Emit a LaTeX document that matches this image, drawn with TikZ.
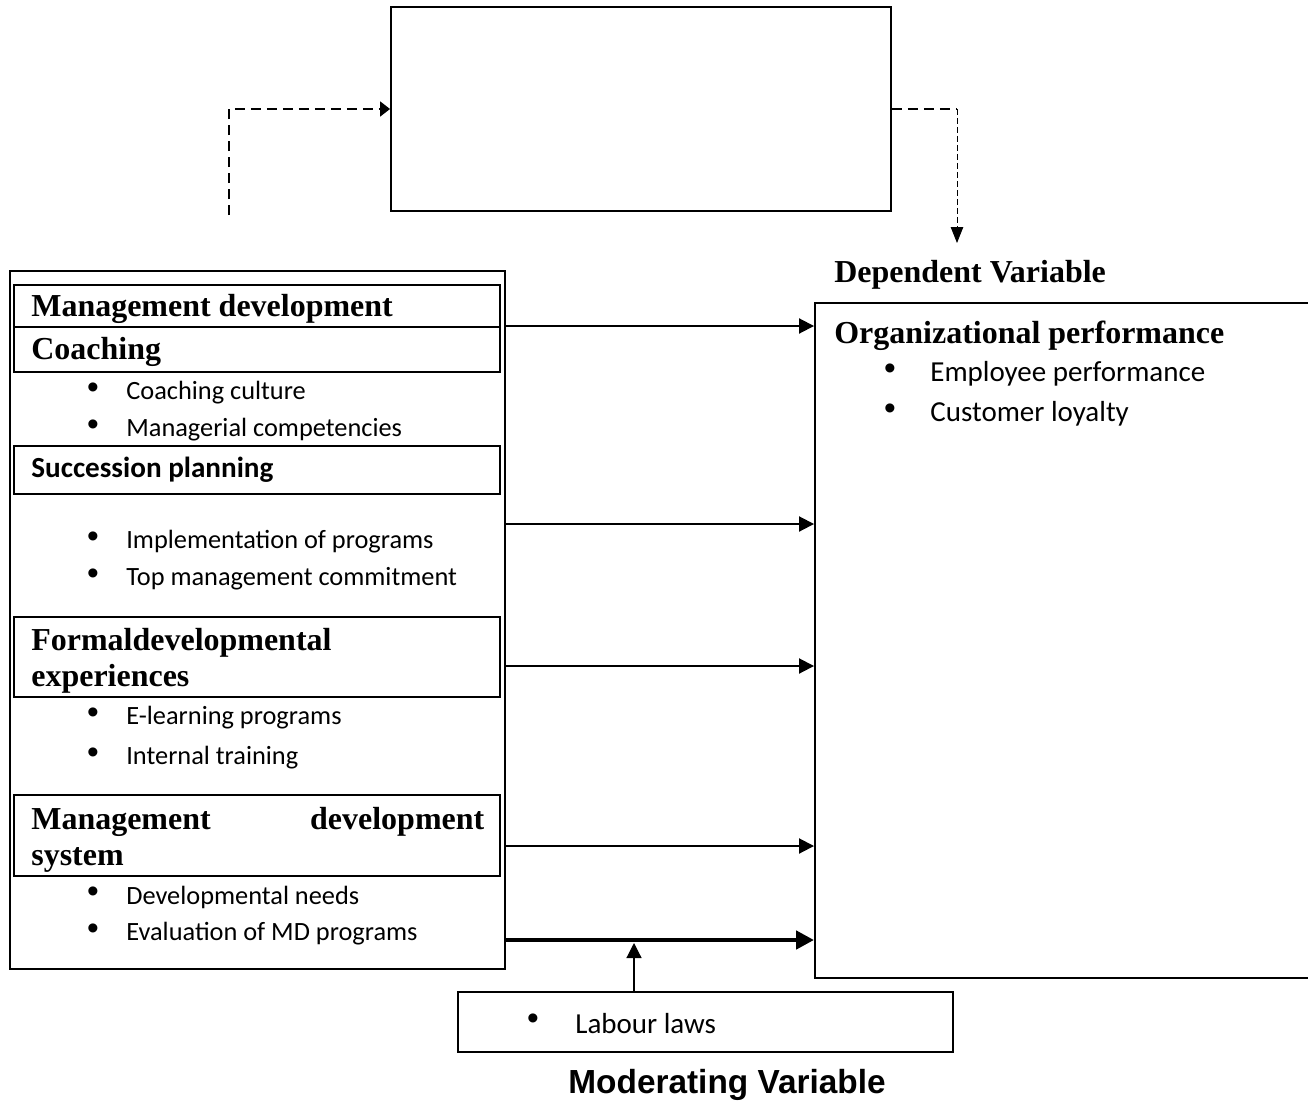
\documentclass[tikz,border=0pt]{standalone}
\usepackage{fontspec}
\setmainfont{Liberation Serif}
\newfontfamily\bodyfont{Carlito}
\newfontfamily\labelfont{Liberation Sans}
\usetikzlibrary{arrows.meta, positioning, fit}

\tikzset{
  box/.style={draw, line width=1.1pt, inner sep=0pt},
  heading/.style={anchor=west, inner sep=0pt, font=\fontsize{18.2}{20.4}\selectfont\bfseries},
  item/.style={anchor=west, inner sep=0pt, font=\bodyfont\fontsize{15}{18}\selectfont},
  bigitem/.style={item, font=\bodyfont\fontsize{16.5}{19}\selectfont},
  dot/.style={inner sep=0pt, font=\labelfont\fontsize{19}{19}\selectfont},
  link/.style={line width=1.1pt, -{Triangle[length=0.3cm, width=0.3cm]}},
}

\begin{document}
\begin{tikzpicture}[x=0.02cm, y=-0.02cm]
\useasboundingbox (0,0) rectangle (1308,1105);

% mediating box (empty)
\node[box, fit={(391,7) (891,211)}] (mediator) {};
\coordinate (dstart) at (229,215);
\coordinate (dend) at (957,243);
\coordinate (dcorner) at (dend |- mediator.east);
\draw[line width=1.1pt, dash pattern=on 0.2cm off 0.12cm,
  -{Triangle[length=0.2cm, width=0.3cm]}] (dstart) |- (mediator.west);
\draw[line width=1.1pt, dash pattern=on 0.2cm off 0.12cm] (mediator.east) -- (dcorner);
\draw[line width=0.5pt, dash pattern=on 0.12cm off 0.06cm,
  -{Triangle[length=0.32cm, width=0.25cm]}] (dcorner) -- (dend);

% independent variables
\node[box, fit={(10,271) (505,969)}] (indep) {};
\node[box, fit={(14,285) (500,327)}] (mdbox) {};
\node[box, fit={(14,327) (500,372)}] (coachbox) {};
\node[box, fit={(14,446) (500,494)}] (succbox) {};
\node[box, fit={(14,617) (500,697)}] (formalbox) {};
\node[box, fit={(14,795) (500,876)}] (mdsbox) {};

\node[heading] (mdtext) at (31,309) {Management development};
\node[heading] (coachtext) at (31,352) {Coaching};
\node[anchor=west, inner sep=0pt, font=\bodyfont\bfseries\fontsize{16.6}{19}\selectfont]
  (succtext) at (31,470) {Succession planning};
\node[heading, align=left] (formaltext) at (31,661) {Formaldevelopmental\\experiences};
\node[heading, align=left, text width=9.06cm] (mdstext) at (31,840)
  {Management\hfill development\\system};

\foreach \y/\txt [count=\i] in {391/Coaching culture, 428/Managerial competencies,
    540/Implementation of programs, 577/Top management commitment,
    716/E-learning programs, 756/Internal training,
    895/Developmental needs, 932/Evaluation of MD programs}{
  \node[dot] (dot\i) at (93,\y) {\textbullet};
  \node[item] (item\i) at (126,\y+2) {\txt};
}

% dependent variable
\node[heading] (deptitle) at (834,275) {Dependent Variable};
\begin{scope}
  \clip (0,0) rectangle (1308,1105);
  \node[box, fit={(815,303) (1330,978)}] (perf) {};
\end{scope}
\node[heading] (perftext) at (834,336) {Organizational performance};
\node[dot] (pdot1) at (890,372) {\textbullet};
\node[bigitem] (pitem1) at (930,374) {Employee performance};
\node[dot] (pdot2) at (890,412) {\textbullet};
\node[bigitem] (pitem2) at (930,414) {Customer loyalty};

% links
\foreach \y in {326,524,666,846}
  \draw[link] (indep.east |- 0,\y) -- (perf.west |- 0,\y);
\draw[line width=2.6pt, -{Triangle[length=0.36cm, width=0.36cm]}]
  (indep.east |- 0,940) -- (perf.west |- 0,940);

% moderating variable
\node[box, fit={(458,992) (953,1052)}] (labbox) {};
\node[dot] (ldot) at (533,1022) {\textbullet};
\node[bigitem] (litem) at (575,1024) {Labour laws};
\coordinate (modtip) at (634,943);
\draw[line width=0.7pt, -{Triangle[length=0.3cm, width=0.3cm]}]
  (labbox.north -| modtip) -- (modtip);
\node[inner sep=0pt, font=\labelfont\bfseries\fontsize{19}{21}\selectfont]
  (modtitle) at (727,1085) {Moderating Variable};
\end{tikzpicture}
\end{document}
